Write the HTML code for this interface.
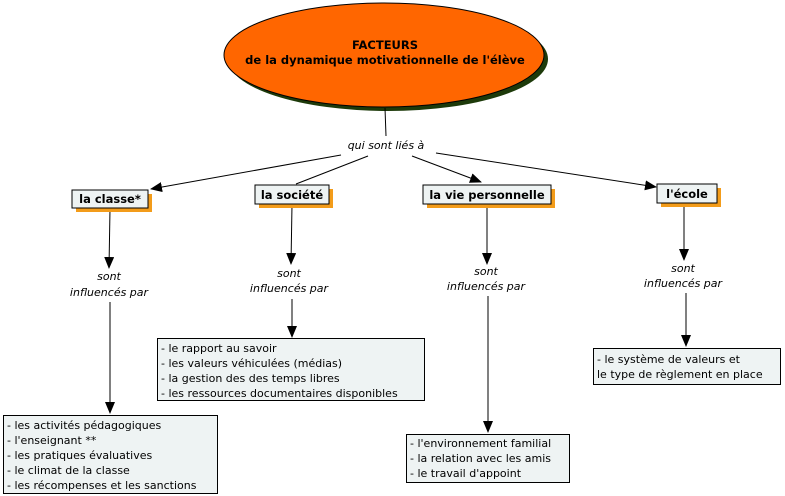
<!DOCTYPE html>
<html><head><meta charset="utf-8"><style>
html,body{margin:0;padding:0;background:#fff;}
svg{display:block;font-family:"DejaVu Sans","Liberation Sans",sans-serif;}
.b{font-weight:bold;font-size:11.5px;}
.i{font-style:italic;font-size:11px;}
.t{font-size:11px;}
</style></head><body>
<svg width="785" height="496" viewBox="0 0 785 496" xmlns="http://www.w3.org/2000/svg">
<defs><marker id="a" markerWidth="12" markerHeight="10" refX="11" refY="5" orient="auto" markerUnits="userSpaceOnUse"><path d="M0,0 L12,5 L0,10 z" fill="#000"/></marker></defs>
<ellipse cx="388" cy="59" rx="160" ry="52" fill="#1d3a0a"/>
<ellipse cx="384" cy="55" rx="160" ry="52" fill="#ff6600" stroke="#000" stroke-width="1"/>
<text x="385" y="49" text-anchor="middle" class="b">FACTEURS</text>
<text x="385" y="64" text-anchor="middle" class="b">de la dynamique motivationnelle de l'élève</text>
<g stroke="#000" stroke-width="1" fill="none">
<line x1="385" y1="108" x2="386" y2="136"/>
<line x1="341" y1="155" x2="151" y2="189" marker-end="url(#a)"/>
<line x1="368" y1="156" x2="296" y2="184"/>
<line x1="412" y1="156" x2="481" y2="182" marker-end="url(#a)"/>
<line x1="436" y1="153" x2="656" y2="187" marker-end="url(#a)"/>
<line x1="110" y1="209" x2="109" y2="268" marker-end="url(#a)"/>
<line x1="110" y1="302" x2="110" y2="413" marker-end="url(#a)"/>
<line x1="292" y1="205" x2="291" y2="264" marker-end="url(#a)"/>
<line x1="292" y1="299" x2="292" y2="337" marker-end="url(#a)"/>
<line x1="487" y1="206" x2="487" y2="264" marker-end="url(#a)"/>
<line x1="488" y1="296" x2="488" y2="432" marker-end="url(#a)"/>
<line x1="684" y1="205" x2="684" y2="260" marker-end="url(#a)"/>
<line x1="686" y1="293" x2="686" y2="346" marker-end="url(#a)"/>
</g>
<text x="386" y="149" text-anchor="middle" class="i">qui sont liés à</text>
<!-- header boxes -->
<rect x="76" y="194" width="76" height="18" fill="#f39c1a"/>
<rect x="72" y="190" width="76" height="18" fill="#eef3f3" stroke="#000"/>
<text x="110" y="203" text-anchor="middle" class="b">la classe*</text>
<rect x="259" y="189" width="74" height="19" fill="#f39c1a"/>
<rect x="255" y="185" width="74" height="19" fill="#eef3f3" stroke="#000"/>
<text x="292" y="199" text-anchor="middle" class="b">la société</text>
<rect x="427" y="189" width="128" height="19" fill="#f39c1a"/>
<rect x="423" y="185" width="128" height="19" fill="#eef3f3" stroke="#000"/>
<text x="487" y="199" text-anchor="middle" class="b">la vie personnelle</text>
<rect x="661" y="188" width="60" height="19" fill="#f39c1a"/>
<rect x="657" y="184" width="60" height="19" fill="#eef3f3" stroke="#000"/>
<text x="687" y="198" text-anchor="middle" class="b">l'école</text>
<!-- labels -->
<text x="109" y="280" text-anchor="middle" class="i">sont</text>
<text x="109" y="296" text-anchor="middle" class="i">influencés par</text>
<text x="289" y="277" text-anchor="middle" class="i">sont</text>
<text x="289" y="292" text-anchor="middle" class="i">influencés par</text>
<text x="486" y="275" text-anchor="middle" class="i">sont</text>
<text x="486" y="290" text-anchor="middle" class="i">influencés par</text>
<text x="683" y="272" text-anchor="middle" class="i">sont</text>
<text x="683" y="287" text-anchor="middle" class="i">influencés par</text>
<!-- content boxes -->
<rect x="3.5" y="415.5" width="214" height="78" fill="#eef3f3" stroke="#000"/>
<g class="t"><text x="7" y="429">- les activités pédagogiques</text>
<text x="7" y="444">- l'enseignant **</text>
<text x="7" y="459">- les pratiques évaluatives</text>
<text x="7" y="474">- le climat de la classe</text>
<text x="7" y="489">- les récompenses et les sanctions</text></g>
<rect x="157.5" y="338.5" width="267" height="62" fill="#eef3f3" stroke="#000"/>
<g class="t"><text x="161" y="352">- le rapport au savoir</text>
<text x="161" y="367">- les valeurs véhiculées (médias)</text>
<text x="161" y="382">- la gestion des des temps libres</text>
<text x="161" y="397">- les ressources documentaires disponibles</text></g>
<rect x="406.5" y="434.5" width="163" height="48" fill="#eef3f3" stroke="#000"/>
<g class="t"><text x="410" y="447">- l'environnement familial</text>
<text x="410" y="462">- la relation avec les amis</text>
<text x="410" y="477">- le travail d'appoint</text></g>
<rect x="593.5" y="348.5" width="187" height="36" fill="#eef3f3" stroke="#000"/>
<g class="t"><text x="597" y="363">- le système de valeurs et</text>
<text x="597" y="378">le type de règlement en place</text></g>
</svg>
</body></html>
